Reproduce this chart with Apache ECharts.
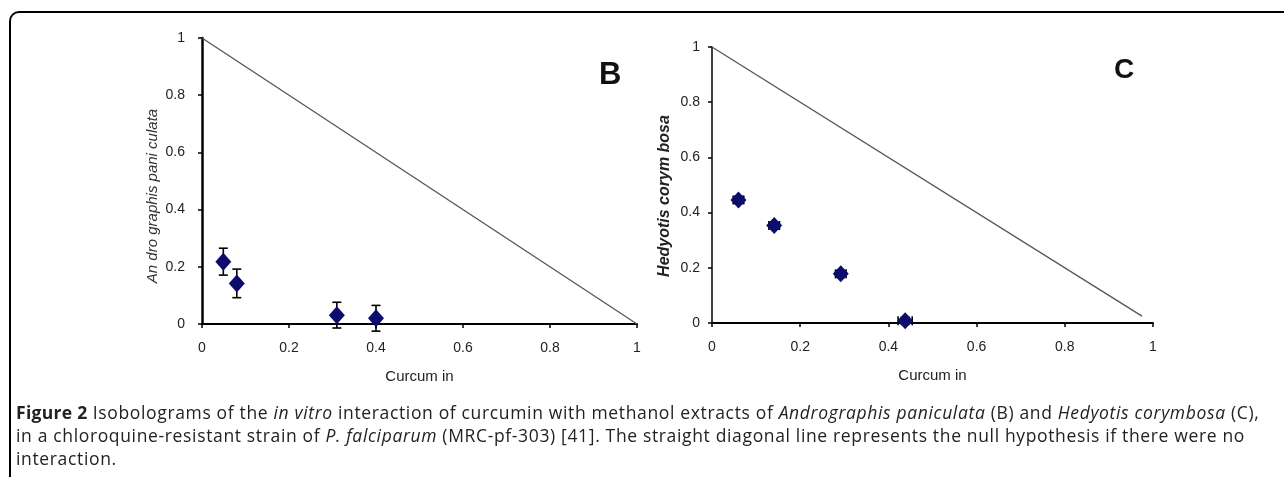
<!DOCTYPE html>
<html>
<head>
<meta charset="utf-8">
<script src="https://cdn.jsdelivr.net/npm/echarts@6/dist/echarts.min.js"></script>
<style>
  html, body { margin: 0; padding: 0; background: #fff; }
  #wrap { position: relative; width: 1284px; height: 477px; overflow: hidden; }
  #frame { position: absolute; left: 9px; top: 11px; width: 1400px; height: 600px;
           border-left: 2px solid #000; border-top: 2px solid #000; border-top-left-radius: 10px; box-sizing: border-box; }
  #chart { position: absolute; left: 0; top: 0; width: 1284px; height: 477px; }
  #caption { position: absolute; left: 16px; top: 401px; font-family: "Open Sans", sans-serif;
             font-size: 17.5px; line-height: 23px; color: #222; white-space: nowrap; letter-spacing: 0.65px; }
  #caption b { font-weight: 700; letter-spacing: 0.3px; }
</style>
</head>
<body>
<div id="wrap">
  <div id="frame"></div>
  <div id="chart"></div>
  <div id="caption"><b>Figure 2</b> Isobolograms of the <i>in vitro</i> interaction of curcumin with methanol extracts of <i>Andrographis paniculata</i> (B) and <i>Hedyotis corymbosa</i> (C),<br>in a chloroquine-resistant strain of <i>P. falciparum</i> (MRC-pf-303) [41]. The straight diagonal line represents the null hypothesis if there were no<br>interaction.</div>
</div>
<script>
// Panel B: Andrographis paniculata vs curcumin
const bX = [0.049, 0.080, 0.310, 0.400];
const bY = [0.218, 0.142, 0.031, 0.020];
const bErr = [0.047, 0.050, 0.045, 0.045];
// Panel C: Hedyotis corymbosa vs curcumin
const cX = [0.060, 0.141, 0.292, 0.438];
const cY = [0.446, 0.353, 0.178, 0.008];
const cErrX = [0.012, 0.012, 0.012, 0.016];
const cErrY = [0.013, 0.013, 0.013, 0.013];
// Null-hypothesis lines
const bLine = [[0, 1], [1, 0]];
const cLine = [[0, 1], [0.975, 0.025]];
const tickLabels = [0, 0.2, 0.4, 0.6, 0.8, 1];

const chart = echarts.init(document.getElementById('chart'));
const font = '"Liberation Sans", Arial, sans-serif';
const fmt = v => String(tickLabels.find(t => Math.abs(t - v) < 1e-6) ?? v);

function axisX(idx, lw) {
  return {
    type: 'value', gridIndex: idx, min: 0, max: 1, interval: 0.2,
    name: 'Curcum in', nameLocation: 'middle', nameGap: 45,
    nameTextStyle: { fontFamily: font, fontSize: 15, color: '#222' },
    axisLine: { show: true, lineStyle: { color: '#000', width: lw } },
    axisTick: { show: true, length: 4, lineStyle: { color: '#000', width: 1.5 } },
    axisLabel: { fontFamily: font, fontSize: 14, color: '#222', margin: 17, formatter: fmt },
    splitLine: { show: false }
  };
}
function axisY(idx, lw, margin) {
  return {
    type: 'value', gridIndex: idx, min: 0, max: 1, interval: 0.2,
    axisLine: { show: true, lineStyle: { color: '#000', width: lw } },
    axisTick: { show: true, length: 4, lineStyle: { color: '#000', width: 1.5 } },
    axisLabel: { fontFamily: font, fontSize: 14, color: '#222', margin: margin, formatter: fmt },
    splitLine: { show: false }
  };
}

function errRender(xs, ys, exs, eys) {
  return function (params, api) {
    const i = params.dataIndex;
    const x = xs[i], y = ys[i];
    const children = [];
    const style = { stroke: '#000', lineWidth: 1.6, fill: null };
    const cap = 4.5;
    if (eys[i] > 0) {
      const top = api.coord([x, y + eys[i]]);
      const bot = api.coord([x, y - eys[i]]);
      children.push({ type: 'line', shape: { x1: top[0], y1: top[1], x2: bot[0], y2: bot[1] }, style });
      children.push({ type: 'line', shape: { x1: top[0] - cap, y1: top[1], x2: top[0] + cap, y2: top[1] }, style });
      children.push({ type: 'line', shape: { x1: bot[0] - cap, y1: bot[1], x2: bot[0] + cap, y2: bot[1] }, style });
    }
    if (exs[i] > 0) {
      const l = api.coord([x - exs[i], y]);
      const r = api.coord([x + exs[i], y]);
      children.push({ type: 'line', shape: { x1: l[0], y1: l[1], x2: r[0], y2: r[1] }, style });
      children.push({ type: 'line', shape: { x1: l[0], y1: l[1] - cap, x2: l[0], y2: l[1] + cap }, style });
      children.push({ type: 'line', shape: { x1: r[0], y1: r[1] - cap, x2: r[0], y2: r[1] + cap }, style });
    }
    return { type: 'group', children };
  };
}

const zeros = bX.map(() => 0);

chart.setOption({
  animation: false,
  grid: [
    { left: 202, top: 38, width: 435, height: 286 },
    { left: 712, top: 47, width: 441, height: 276 }
  ],
  xAxis: [axisX(0, 2), axisX(1, 2)],
  yAxis: [axisY(0, 2.5, 17), axisY(1, 1.5, 12)],
  series: [
    { type: 'line', xAxisIndex: 0, yAxisIndex: 0, data: bLine, symbol: 'none',
      lineStyle: { color: '#555', width: 1.3 }, z: 1 },
    { type: 'line', xAxisIndex: 1, yAxisIndex: 1, data: cLine, symbol: 'none',
      lineStyle: { color: '#555', width: 1.3 }, z: 1 },
    { type: 'custom', xAxisIndex: 0, yAxisIndex: 0,
      data: bX.map((x, i) => [x, bY[i]]),
      renderItem: errRender(bX, bY, zeros, bErr), z: 2 },
    { type: 'custom', xAxisIndex: 1, yAxisIndex: 1,
      data: cX.map((x, i) => [x, cY[i]]),
      renderItem: errRender(cX, cY, cErrX, cErrY), z: 2 },
    { type: 'scatter', xAxisIndex: 0, yAxisIndex: 0, data: bX.map((x, i) => [x, bY[i]]),
      symbol: 'diamond', symbolSize: [16, 18], itemStyle: { color: '#0c0c6c', opacity: 1 }, z: 3 },
    { type: 'scatter', xAxisIndex: 1, yAxisIndex: 1, data: cX.map((x, i) => [x, cY[i]]),
      symbol: 'diamond', symbolSize: [16, 17], itemStyle: { color: '#0c0c6c', opacity: 1 }, z: 3 }
  ],
  graphic: [
    { type: 'text', left: 599, top: 60, style: { text: 'B', font: 'bold 31px ' + font, fill: '#111' } },
    { type: 'text', left: 1114, top: 56, style: { text: 'C', font: 'bold 28px ' + font, fill: '#111' } },
    { type: 'text', x: 153, y: 196, rotation: Math.PI / 2,
      style: { text: 'An dro graphis pani culata', font: 'italic 15px ' + font, fill: '#333',
               align: 'center', verticalAlign: 'middle' } },
    { type: 'text', x: 665, y: 196, rotation: Math.PI / 2,
      style: { text: 'Hedyotis corym bosa', font: 'italic bold 16px ' + font, fill: '#222',
               align: 'center', verticalAlign: 'middle' } }
  ]
});
</script>
</body>
</html>
